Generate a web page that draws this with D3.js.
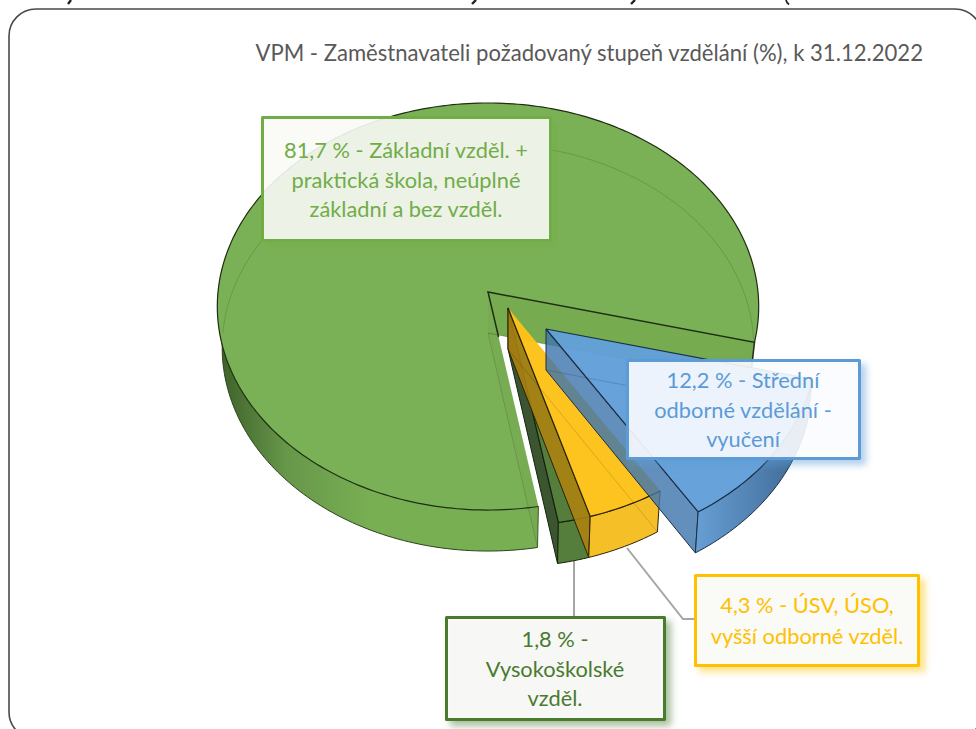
<!DOCTYPE html>
<html>
<head>
<meta charset="utf-8">
<script src="https://d3js.org/d3.v7.min.js"></script>
<style>
  body { margin: 0; background: #fff; }
  svg { display: block; }
  text { font-family: Lato, "Open Sans", sans-serif; }
</style>
</head>
<body>
<div id="chart"></div>
<script>
// Data
var chartTitle = "VPM - Zaměstnavateli požadovaný stupeň vzdělání (%), k 31.12.2022";
var categories = ["Základní", "Střední odborné", "ÚSV, ÚSO, VOŠ", "Vysokoškolské"];
var values = [81.7, 12.2, 4.3, 1.8];
var labelLines = [
  ["81,7 % - Základní vzděl. +", "praktická škola, neúplné", "základní a bez vzděl."],
  ["12,2 % - Střední", "odborné vzdělání -", "vyučení"],
  ["4,3 % - ÚSV, ÚSO,", "vyšší odborné vzděl."],
  ["1,8 % -", "Vysokoškolské", "vzděl."]
];

// Step 1: Set up the page
//= ================================
var svgWidth = 976;
var svgHeight = 729;

var svg = d3.select("#chart")
  .append("svg")
    .attr("width", svgWidth)
    .attr("height", svgHeight);

var defs = svg.append("defs");

// pie geometry (a tilted disc with a bit of perspective)
var cx = 488, cy = 292, rx = 270, ry = 202.5, persp = 0.0713;
var depth = 41, wallShrink = 0.982;
var explode = [[0, 0], [58, 37], [20, 16], [20, 16]];

var styles = [
  { top: "#7bb156", side: "#7ab053", inner: "#76ab50", line: "#1d2e12", box: "#70AD47", fill: "#f9f9f7", alpha: 1, innerAlpha: 1 },
  { top: "#629fd9", side: "url(#blueWall)", inner: "#3f76ac", line: "#1b2f45", box: "#5B9BD5", fill: "#fbfcff", alpha: 0.97, innerAlpha: 0.82 },
  { top: "#fdc118", side: "#f4bd20", inner: "#ad8210", line: "#2e2508", box: "#FFC000", fill: "#f9f9f5", alpha: 0.97, innerAlpha: 0.88 },
  { top: "#4f7a36", side: "#4f7a36", inner: "#36502a", line: "#16240d", box: "#4A7A2F", fill: "#f7f7f5", alpha: 0.97, innerAlpha: 0.97 }
];

// project a pie angle to the screen
function project(angle, r, off, bottom) {
  var u = Math.sin(angle) * r;
  var v = -Math.cos(angle) * r;
  var s = 1 / (1 - persp * v);
  return [
    cx + off[0] + rx * u * s * (bottom ? wallShrink : 1),
    cy + off[1] + ry * v * s + (bottom ? depth : 0)
  ];
}

function arcPoints(a0, a1, off, bottom) {
  var n = Math.max(2, Math.ceil(Math.abs(a1 - a0) / 0.02));
  return d3.range(n + 1).map(function(i) {
    return project(a0 + (a1 - a0) * i / n, 1, off, bottom);
  });
}

var linePath = d3.line();
function closedPath(pts) { return linePath(pts) + "Z"; }

// wall gradients
var greenWall = defs.append("linearGradient")
  .attr("id", "greenWall")
  .attr("gradientUnits", "userSpaceOnUse")
  .attr("x1", 218).attr("x2", 370).attr("y1", 0).attr("y2", 0);
greenWall.append("stop").attr("offset", 0).attr("stop-color", "#3d5f28");
greenWall.append("stop").attr("offset", 0.45).attr("stop-color", "#66974a");
greenWall.append("stop").attr("offset", 1).attr("stop-color", "#79af53");

var blueWall = defs.append("linearGradient")
  .attr("id", "blueWall")
  .attr("gradientUnits", "userSpaceOnUse")
  .attr("x1", 700).attr("x2", 800).attr("y1", 0).attr("y2", 0);
blueWall.append("stop").attr("offset", 0).attr("stop-color", "#6099d0");
blueWall.append("stop").attr("offset", 1).attr("stop-color", "#3a6692");

// shadow for the callout boxes, kept outside the box itself
styles.forEach(function(st, i) {
  var f = defs.append("filter")
    .attr("id", "boxShadow" + i)
    .attr("x", "-10%").attr("y", "-15%").attr("width", "120%").attr("height", "130%");
  f.append("feGaussianBlur").attr("in", "SourceAlpha").attr("stdDeviation", 3.5).attr("result", "b");
  f.append("feOffset").attr("in", "b").attr("dx", 5).attr("dy", 5).attr("result", "o");
  f.append("feFlood").attr("flood-color", st.box).attr("flood-opacity", 0.5).attr("result", "c");
  f.append("feComposite").attr("in", "c").attr("in2", "o").attr("operator", "in").attr("result", "s");
  f.append("feComposite").attr("in", "s").attr("in2", "SourceAlpha").attr("operator", "out").attr("result", "s2");
  var m = f.append("feMerge");
  m.append("feMergeNode").attr("in", "s2");
  m.append("feMergeNode").attr("in", "SourceGraphic");
});

// Step 2: Slide frame and the cut-off heading above it
//= ================================
svg.append("rect")
  .attr("x", 9).attr("y", 9)
  .attr("width", 973).attr("height", 730)
  .attr("rx", 27).attr("ry", 27)
  .attr("fill", "none")
  .attr("stroke", "#4a4a4a")
  .attr("stroke-width", 1.6);

[[71, 0, 68, 4], [476, 0, 472, 4], [635, 0, 631, 4]].forEach(function(d) {
  svg.append("line")
    .attr("x1", d[0]).attr("y1", d[1]).attr("x2", d[2]).attr("y2", d[3])
    .attr("stroke", "#222").attr("stroke-width", 2.4);
});
svg.append("path")
  .attr("d", "M786,0 Q786.5,2.5 789,4.5")
  .attr("fill", "none")
  .attr("stroke", "#222").attr("stroke-width", 1.8);

svg.append("text")
  .attr("x", 923)
  .attr("y", 61)
  .attr("text-anchor", "end")
  .attr("font-size", 22.1)
  .attr("fill", "#595959")
  .text(chartTitle);

// Step 3: The slices, back to front
//= ================================
var pie = d3.pie()
  .sort(null)
  .startAngle(170 * Math.PI / 180)
  .endAngle(530 * Math.PI / 180);

var slices = pie(values);

// leader lines go under the slices
var leaderColor = "#a6a6a6";
svg.append("path")
  .attr("d", "M574,560V616")
  .attr("fill", "none").attr("stroke", leaderColor).attr("stroke-width", 2);
svg.append("path")
  .attr("d", "M627,548L683,619H696")
  .attr("fill", "none").attr("stroke", leaderColor).attr("stroke-width", 2);

function drawSlice(i) {
  var d = slices[i];
  var st = styles[i];
  var off = explode[i];
  var g = svg.append("g").attr("class", "slice slice-" + i);
  g.append("title").text(categories[i]);
  var apex = project(0, 0, off, false);
  var apexB = project(0, 0, off, true);
  var a0 = d.startAngle, a1 = d.endAngle;
  var start = project(a0, 1, off, false);
  var startB = project(a0, 1, off, true);
  var end = project(a1, 1, off, false);
  var endB = project(a1, 1, off, true);

  if (i === 0) {
    // back wall of the big slice
    g.append("path")
      .attr("d", closedPath([apex, end, endB, apexB]))
      .attr("fill", st.inner);
    // front wall, only the part that faces the viewer
    var frontEnd = 278 * Math.PI / 180;
    var wallTop = arcPoints(a0, frontEnd, off, false);
    var wallBottom = arcPoints(frontEnd, a0, off, true);
    g.append("path")
      .attr("d", closedPath(wallTop.concat(wallBottom)))
      .attr("fill", "url(#greenWall)");
    g.append("path")
      .attr("d", linePath(arcPoints(a0, frontEnd, off, true)))
      .attr("fill", "none")
      .attr("stroke", "#2c431b").attr("stroke-width", 1);
    // top face
    g.append("path")
      .attr("d", closedPath([apex].concat(arcPoints(a0, a1, off, false))))
      .attr("fill", st.top);
    // see-through lines of the far side
    g.append("path")
      .attr("d", linePath(arcPoints(270 * Math.PI / 180, a1, off, true)))
      .attr("fill", "none")
      .attr("stroke", "#000").attr("stroke-opacity", 0.14);
    g.append("path")
      .attr("d", closedPath([apex, start, startB, apexB]))
      .attr("fill", "#000").attr("fill-opacity", 0.025)
      .attr("stroke", "none");
    g.append("path")
      .attr("d", linePath([apexB, startB]))
      .attr("fill", "none")
      .attr("stroke", "#000").attr("stroke-opacity", 0.14);
    g.append("path")
      .attr("d", linePath([start, startB]))
      .attr("fill", "none")
      .attr("stroke", "#3c5a28").attr("stroke-width", 1);
    // outline
    g.append("path")
      .attr("d", linePath(arcPoints(a0, a1, off, false)))
      .attr("fill", "none")
      .attr("stroke", st.line).attr("stroke-width", 1.2);
    g.append("path")
      .attr("d", linePath([d3.interpolate(apex, start)(0.21), apex, end, endB]))
      .attr("fill", "none")
      .attr("stroke", st.line).attr("stroke-width", 1.5);
    g.append("path")
      .attr("d", linePath([apexB, endB]))
      .attr("fill", "none")
      .attr("stroke", "#2c431b").attr("stroke-opacity", 0.35);
    return;
  }

  // cut wall seen on the left side
  g.append("path")
    .attr("d", closedPath([apex, end, endB, apexB]))
    .attr("fill", st.inner)
    .attr("fill-opacity", st.innerAlpha)
    .attr("stroke", st.line).attr("stroke-width", 1);
  // outer wall
  g.append("path")
    .attr("d", closedPath(arcPoints(a0, a1, off, false).concat(arcPoints(a1, a0, off, true))))
    .attr("fill", st.side)
    .attr("fill-opacity", st.alpha)
    .attr("stroke", st.line).attr("stroke-width", 1);
  // top face
  g.append("path")
    .attr("d", closedPath([apex].concat(arcPoints(a0, a1, off, false))))
    .attr("fill", st.top)
    .attr("fill-opacity", st.alpha);
  // see-through far wall
  g.append("path")
    .attr("d", linePath([apexB, startB]))
    .attr("fill", "none")
    .attr("stroke", "#000").attr("stroke-opacity", 0.15);
  // the yellow slice has no dark line on its right cut edge
  var outline = arcPoints(a0, a1, off, false).concat([apex]);
  if (i !== 2) outline.unshift(apex);
  g.append("path")
    .attr("d", linePath(outline))
    .attr("fill", "none")
    .attr("stroke", st.line).attr("stroke-width", 1.2);
}

drawSlice(0);
drawSlice(3);
drawSlice(2);
drawSlice(1);

// Step 4: Callout boxes
//= ================================
var boxes = [
  { x: 262.5, y: 117.5, w: 288, h: 123, tx: 406, ty: 158, dy: 29.5 },
  { x: 627.5, y: 360.5, w: 232, h: 98, tx: 743, ty: 388, dy: 29.5 },
  { x: 695.5, y: 575.5, w: 223, h: 90, tx: 807, ty: 613, dy: 30.5 },
  { x: 446.5, y: 617.5, w: 218, h: 102, tx: 555, ty: 647, dy: 29.5 }
];

boxes.forEach(function(b, i) {
  var st = styles[i];
  svg.append("rect")
    .attr("x", b.x).attr("y", b.y)
    .attr("width", b.w).attr("height", b.h)
    .attr("fill", st.fill).attr("fill-opacity", 0.9)
    .attr("stroke", st.box).attr("stroke-width", 3)
    .attr("stroke-linejoin", "round")
    .attr("filter", "url(#boxShadow" + i + ")");

  svg.selectAll(".label-" + i)
    .data(labelLines[i])
    .enter()
    .append("text")
      .attr("class", "label-" + i)
      .attr("x", b.tx)
      .attr("y", function(d, k) { return b.ty + k * b.dy; })
      .attr("text-anchor", "middle")
      .attr("font-size", 21.8)
      .attr("fill", st.box)
      .text(function(d) { return d; });
});
</script>
</body>
</html>
